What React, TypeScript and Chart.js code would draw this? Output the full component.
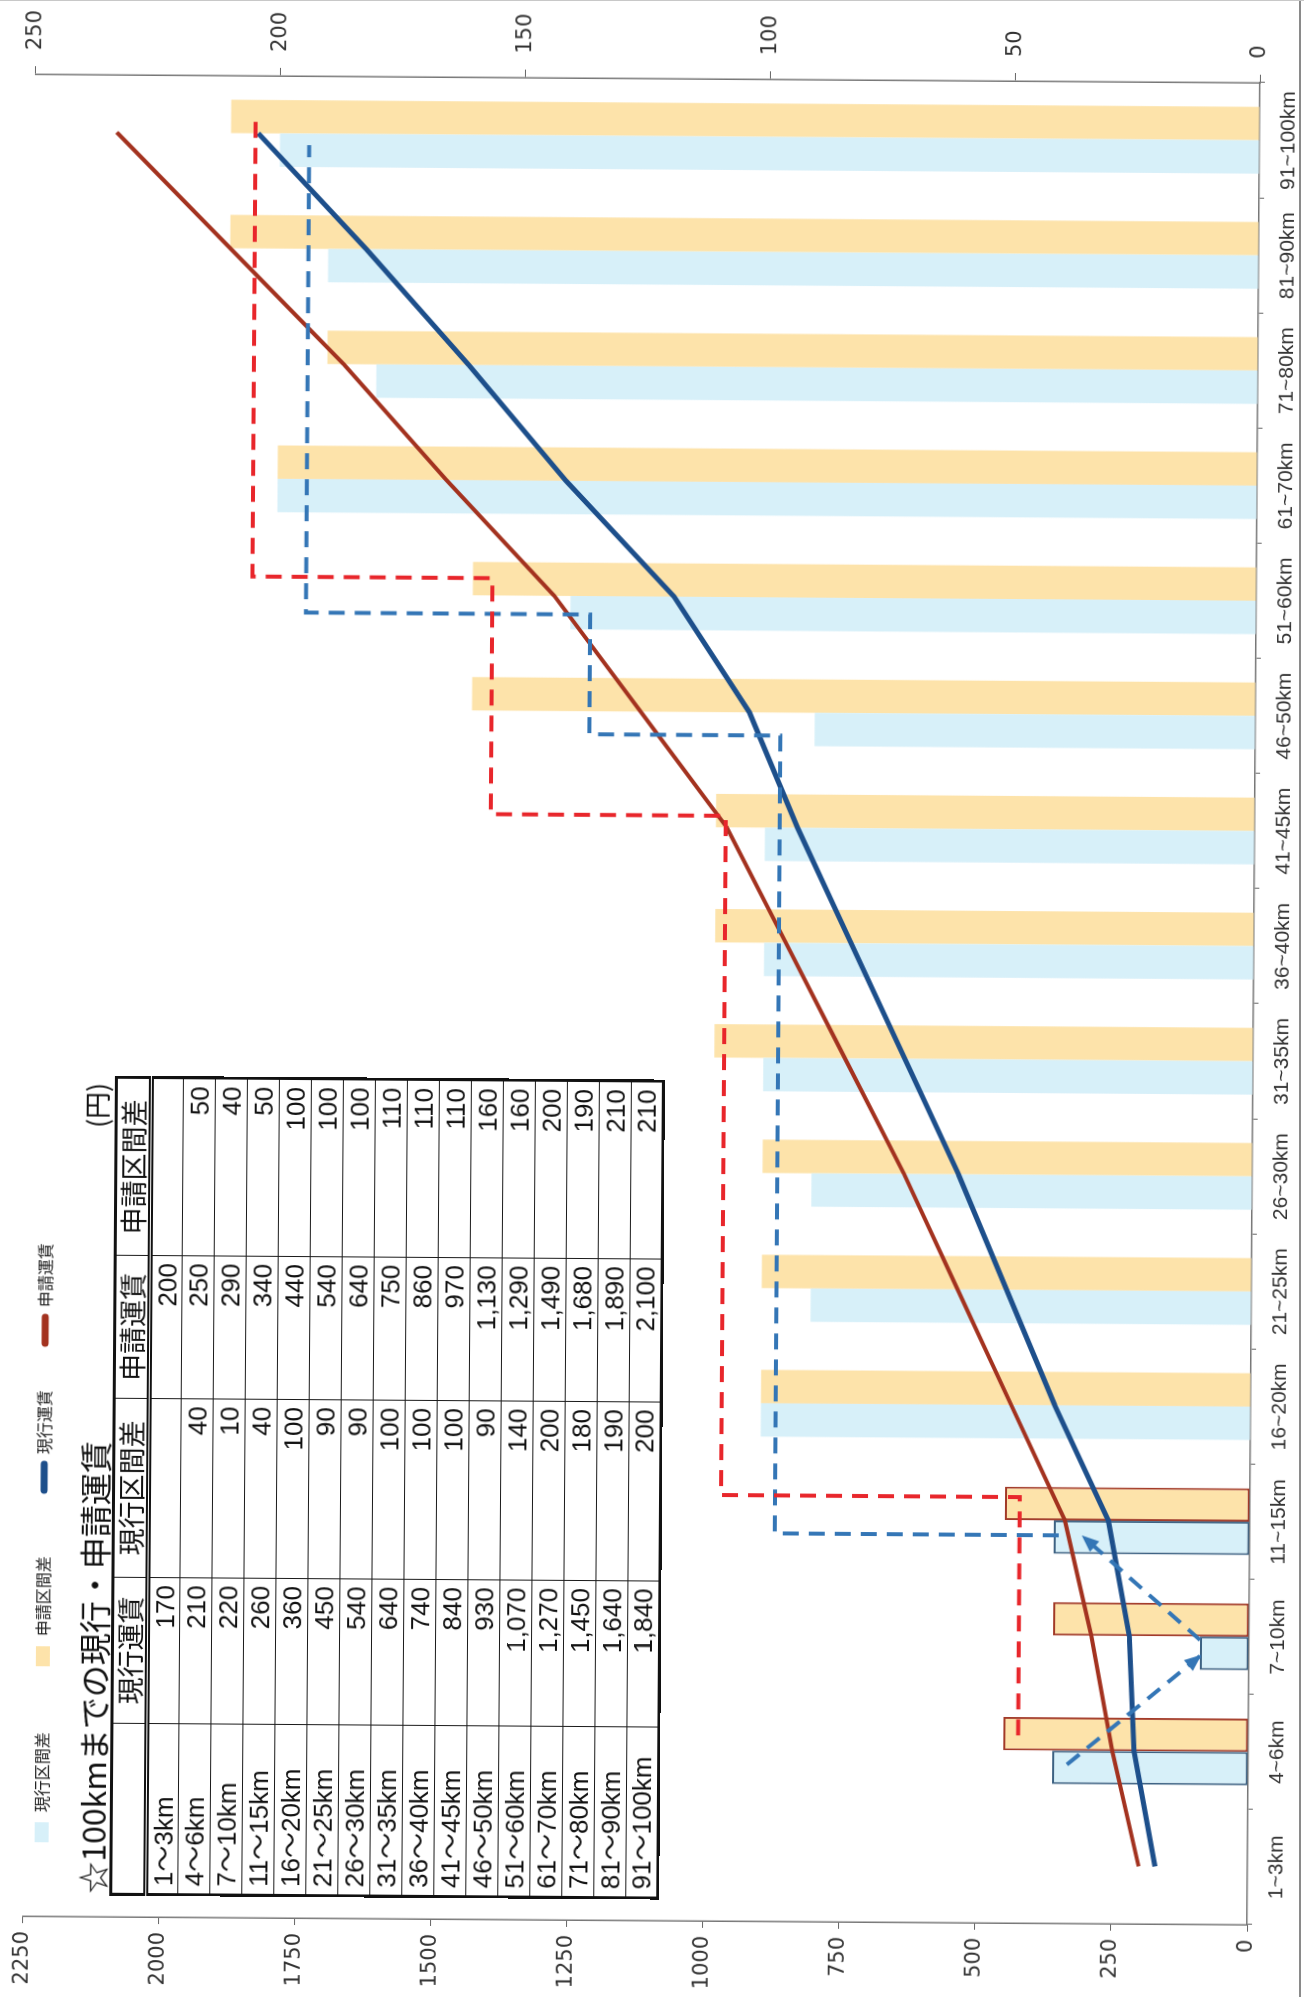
import React, { useEffect, useRef } from "react";
import { Chart, registerables } from "chart.js";

Chart.register(...registerables);

// ---------- data ----------
const categories = [
  "1~3km", "4~6km", "7~10km", "11~15km", "16~20km", "21~25km", "26~30km", "31~35km",
  "36~40km", "41~45km", "46~50km", "51~60km", "61~70km", "71~80km", "81~90km", "91~100km",
];
const currentFare = [170, 210, 220, 260, 360, 450, 540, 640, 740, 840, 930, 1070, 1270, 1450, 1640, 1840];
const proposedFare = [200, 250, 290, 340, 440, 540, 640, 750, 860, 970, 1130, 1290, 1490, 1680, 1890, 2100];
const currentDiff: (number | null)[] = [null, 40, 10, 40, 100, 90, 90, 100, 100, 100, 90, 140, 200, 180, 190, 200];
const proposedDiff: (number | null)[] = [null, 50, 40, 50, 100, 100, 100, 110, 110, 110, 160, 160, 200, 190, 210, 210];
const outlinedCategories = ["4~6km", "7~10km", "11~15km"];

const fareAxisMax = 2250;
const fareAxisStep = 250;
const diffAxisMax = 250;
const diffAxisStep = 50;

// hand-drawn dashed guides (x = category position, y = 区間差 value)
const proposedStepPos = [1.13, 3.2, 3.2, 9.1, 9.1, 11.15, 11.15, 15.15];
const proposedStepVal = [47, 47, 108, 108, 156, 156, 205, 205];
const currentStepPos = [2.87, 2.87, 9.8, 9.8, 10.84, 10.84, 14.9];
const currentStepVal = [39, 97, 97, 136, 136, 194, 194];
const arrowAPos = [0.88, 1.83];
const arrowAVal = [37, 10];
const arrowBPos = [1.97, 2.86];
const arrowBVal = [10, 34];

const tableTitle = "☆100kmまでの現行・申請運賃";
const tableUnit = "(円)";
const tableHeaders = ["", "現行運賃", "現行区間差", "申請運賃", "申請区間差"];

// ---------- styles ----------
const W = 1997;
const H = 1304;
const COL_CUR_BAR = "#d7f0f9";
const COL_PRO_BAR = "#fde3aa";
const COL_CUR_LINE = "#1d4f8b";
const COL_PRO_LINE = "#a3321f";
const COL_RED_DASH = "#e8262b";
const COL_BLUE_DASH = "#3476b6";

const zip = (xs: number[], ys: number[]) => xs.map((x, i) => ({ x, y: ys[i] }));
const fmt = (v: number | null) => (v == null ? "" : v.toLocaleString("en-US"));

type LegendItem = { label: string; kind: "bar" | "line"; color: string };

const makeLegendPlugin = (items: LegendItem[]) => ({
  id: "customLegend",
  afterDraw(chart: any) {
    const ctx = chart.ctx;
    const slots = [
      { sx: 151, tx: 181 },
      { sx: 327, tx: 357 },
      { sx: 499, tx: 539 },
      { sx: 646, tx: 686 },
    ];
    const cy = 47;
    ctx.save();
    ctx.font = '16px "Noto Sans CJK JP"';
    ctx.textBaseline = "middle";
    items.forEach((it, i) => {
      const s = slots[i];
      if (it.kind === "bar") {
        ctx.fillStyle = it.color;
        ctx.fillRect(s.sx, cy - 7, 20, 14);
      } else {
        ctx.strokeStyle = it.color;
        ctx.lineWidth = 7;
        ctx.lineCap = "round";
        ctx.beginPath();
        ctx.moveTo(s.sx + 4, cy);
        ctx.lineTo(s.sx + 30, cy);
        ctx.stroke();
      }
      ctx.fillStyle = "#222";
      ctx.fillText(it.label, s.tx, cy);
    });
    ctx.restore();
  },
});

const arrowPlugin = {
  id: "arrowHeads",
  afterDatasetsDraw(chart: any) {
    const ctx = chart.ctx;
    chart.data.datasets.forEach((ds: any, i: number) => {
      if (!ds.arrowHead) return;
      const pts = chart.getDatasetMeta(i).data;
      if (pts.length < 2) return;
      const a = pts[pts.length - 2];
      const b = pts[pts.length - 1];
      const ang = Math.atan2(b.y - a.y, b.x - a.x);
      ctx.save();
      ctx.fillStyle = ds.borderColor;
      ctx.translate(b.x, b.y);
      ctx.rotate(ang);
      ctx.beginPath();
      ctx.moveTo(2, 0);
      ctx.lineTo(-15, -7);
      ctx.lineTo(-15, 7);
      ctx.closePath();
      ctx.fill();
      ctx.restore();
    });
  },
};

// shared scale geometry so both layers get the identical chart area
const makeScales = (visible: boolean) => {
  const tickColor = visible ? "#333" : "rgba(0,0,0,0)";
  const lineColor = visible ? "#666" : "rgba(0,0,0,0)";
  const borderColor = visible ? "#777" : "rgba(0,0,0,0)";
  return {
    x: {
      type: "category",
      labels: categories,
      offset: true,
      grid: { drawOnChartArea: false, tickLength: 5, color: lineColor, offset: true },
      border: { color: borderColor, width: 1.5 },
      ticks: {
        font: { family: '"Liberation Sans Narrow", "Liberation Sans"', size: 21 },
        color: tickColor,
        padding: 12,
        maxRotation: 0,
        autoSkip: false,
      },
      afterFit: (s: any) => {
        s.height = 51;
      },
    },
    xo: {
      type: "linear",
      axis: "x",
      display: false,
      offset: false,
      min: -0.5,
      max: 15.5,
    },
    y: {
      position: "left",
      min: 0,
      max: fareAxisMax,
      ticks: {
        stepSize: fareAxisStep,
        font: { family: '"DejaVu Sans"', size: 21 },
        color: tickColor,
        padding: 8,
        callback: (v: any) => String(v),
      },
      grid: { drawOnChartArea: false, tickLength: 7, color: lineColor },
      border: { color: borderColor, width: 1.5 },
      afterFit: (s: any) => {
        s.width = 77;
      },
    },
    y1: {
      position: "right",
      min: 0,
      max: diffAxisMax,
      ticks: {
        stepSize: diffAxisStep,
        font: { family: '"DejaVu Sans"', size: 21 },
        color: tickColor,
        padding: 16,
        callback: (v: any) => String(v),
      },
      grid: { drawOnChartArea: false, tickLength: 8, color: lineColor },
      border: { color: borderColor, width: 1.5 },
      afterFit: (s: any) => {
        s.width = 78;
      },
    },
  };
};

export default function App() {
  const barRef = useRef<HTMLCanvasElement>(null);
  const lineRef = useRef<HTMLCanvasElement>(null);

  useEffect(() => {
    document.body.style.margin = "0";
    document.body.style.background = "#fff";
    const outlined = categories.map((c) => outlinedCategories.includes(c));

    const barSets = [
      {
        label: "現行区間差",
        data: currentDiff,
        backgroundColor: COL_CUR_BAR,
        borderColor: outlined.map((o) => (o ? "#3d6283" : "rgba(0,0,0,0)")),
        borderWidth: outlined.map((o) => (o ? 2 : 0)),
      },
      {
        label: "申請区間差",
        data: proposedDiff,
        backgroundColor: COL_PRO_BAR,
        borderColor: outlined.map((o) => (o ? "#a23a28" : "rgba(0,0,0,0)")),
        borderWidth: outlined.map((o) => (o ? 2 : 0)),
      },
    ].map((d) => ({
      ...d,
      xAxisID: "x",
      yAxisID: "y1",
      borderSkipped: false,
      categoryPercentage: 0.58,
      barPercentage: 1,
    }));

    const fareSets = [
      { label: "現行運賃", data: currentFare, borderColor: COL_CUR_LINE, borderWidth: 5 },
      { label: "申請運賃", data: proposedFare, borderColor: COL_PRO_LINE, borderWidth: 4 },
    ].map((d) => ({
      ...d,
      xAxisID: "x",
      yAxisID: "y",
      backgroundColor: d.borderColor,
      pointRadius: 0,
      tension: 0,
      fill: false,
      order: 1,
    }));

    const dashed = (color: string, pos: number[], val: number[], arrow = false) => ({
      label: "",
      data: zip(pos, val),
      xAxisID: "xo",
      yAxisID: "y1",
      borderColor: color,
      backgroundColor: color,
      borderWidth: 4,
      borderDash: [16, 10],
      pointRadius: 0,
      tension: 0,
      fill: false,
      order: 0,
      arrowHead: arrow,
    });

    const legendItems: LegendItem[] = [
      ...barSets.map((d) => ({ label: d.label, kind: "bar" as const, color: d.backgroundColor })),
      ...fareSets.map((d) => ({ label: d.label, kind: "line" as const, color: d.borderColor })),
    ];

    const common = {
      responsive: false,
      animation: false,
      layout: { padding: { top: 23, left: 0, right: 0, bottom: 0 } },
      plugins: { legend: { display: false }, tooltip: { enabled: false } },
    };

    const barChart = new Chart(barRef.current!, {
      type: "bar",
      data: { labels: categories, datasets: barSets as any },
      options: { ...common, scales: makeScales(true) as any } as any,
    });

    const lineChart = new Chart(lineRef.current!, {
      type: "line",
      data: {
        labels: categories,
        datasets: [
          ...fareSets,
          dashed(COL_RED_DASH, proposedStepPos, proposedStepVal),
          dashed(COL_BLUE_DASH, currentStepPos, currentStepVal),
          dashed(COL_BLUE_DASH, arrowAPos, arrowAVal, true),
          dashed(COL_BLUE_DASH, arrowBPos, arrowBVal, true),
        ] as any,
      },
      options: { ...common, scales: makeScales(false) as any } as any,
      plugins: [arrowPlugin, makeLegendPlugin(legendItems)],
    });

    return () => {
      barChart.destroy();
      lineChart.destroy();
    };
  }, []);

  const colWidths = [171, 146, 179, 143, 178];
  const cellBorder = "1.5px solid #1a1a1a";
  const numCell: React.CSSProperties = {
    border: cellBorder,
    textAlign: "right",
    padding: "0 7px",
    fontFamily: '"Liberation Sans", Arial, sans-serif',
    fontSize: 26,
    lineHeight: "26px",
    color: "#111",
  };
  const canvasStyle: React.CSSProperties = { position: "absolute", left: 0, top: 0, width: W, height: H };

  return (
    <div style={{ position: "relative", width: 1304, height: 1997, overflow: "hidden", background: "#fff" }}>
      <div
        style={{
          position: "absolute",
          left: (1304 - W) / 2,
          top: (1997 - H) / 2,
          width: W,
          height: H,
          transform: "rotate(-89.6deg)",
        }}
      >
        <canvas ref={barRef} width={W} height={H} style={canvasStyle} />
        <canvas ref={lineRef} width={W} height={H} style={canvasStyle} />
        <div
          style={{
            position: "absolute",
            left: 98,
            top: 78,
            width: 817,
            height: 36,
            display: "flex",
            justifyContent: "space-between",
            alignItems: "flex-end",
            fontFamily: '"Noto Sans CJK JP", sans-serif',
            color: "#111",
          }}
        >
          <span style={{ fontSize: 32, lineHeight: "34px", paddingLeft: 2 }}>{tableTitle}</span>
          <span style={{ fontSize: 27, lineHeight: "34px", paddingRight: 4 }}>{tableUnit}</span>
        </div>
        <table
          style={{
            position: "absolute",
            left: 98,
            top: 115,
            width: 817,
            borderCollapse: "collapse",
            tableLayout: "fixed",
            background: "#fff",
            border: "3px solid #111",
          }}
        >
          <colgroup>
            {colWidths.map((w, i) => (
              <col key={i} style={{ width: w }} />
            ))}
          </colgroup>
          <thead>
            <tr style={{ height: 35 }}>
              {tableHeaders.map((h, i) => (
                <th
                  key={i}
                  style={{
                    border: cellBorder,
                    borderBottom: "5px double #111",
                    fontFamily: '"Noto Sans CJK JP", sans-serif',
                    fontWeight: 400,
                    fontSize: 27,
                    lineHeight: "30px",
                    padding: 0,
                    textAlign: "center",
                    color: "#111",
                  }}
                >
                  {h}
                </th>
              ))}
            </tr>
          </thead>
          <tbody>
            {categories.map((c, i) => (
              <tr key={c} style={{ height: 32 }}>
                <td
                  style={{
                    ...numCell,
                    textAlign: "left",
                    fontFamily: '"Liberation Sans", "Noto Sans CJK JP", sans-serif',
                  }}
                >
                  {c.replace("~", "～")}
                </td>
                <td style={numCell}>{fmt(currentFare[i])}</td>
                <td style={numCell}>{fmt(currentDiff[i])}</td>
                <td style={numCell}>{fmt(proposedFare[i])}</td>
                <td style={numCell}>{fmt(proposedDiff[i])}</td>
              </tr>
            ))}
          </tbody>
        </table>
      </div>
      <div style={{ position: "absolute", left: 1299, top: 0, width: 2, height: 1997, background: "#8a8a8a" }} />
      <div style={{ position: "absolute", left: 0, top: 0, width: 1304, height: 1, background: "#c8c8c8" }} />
    </div>
  );
}
